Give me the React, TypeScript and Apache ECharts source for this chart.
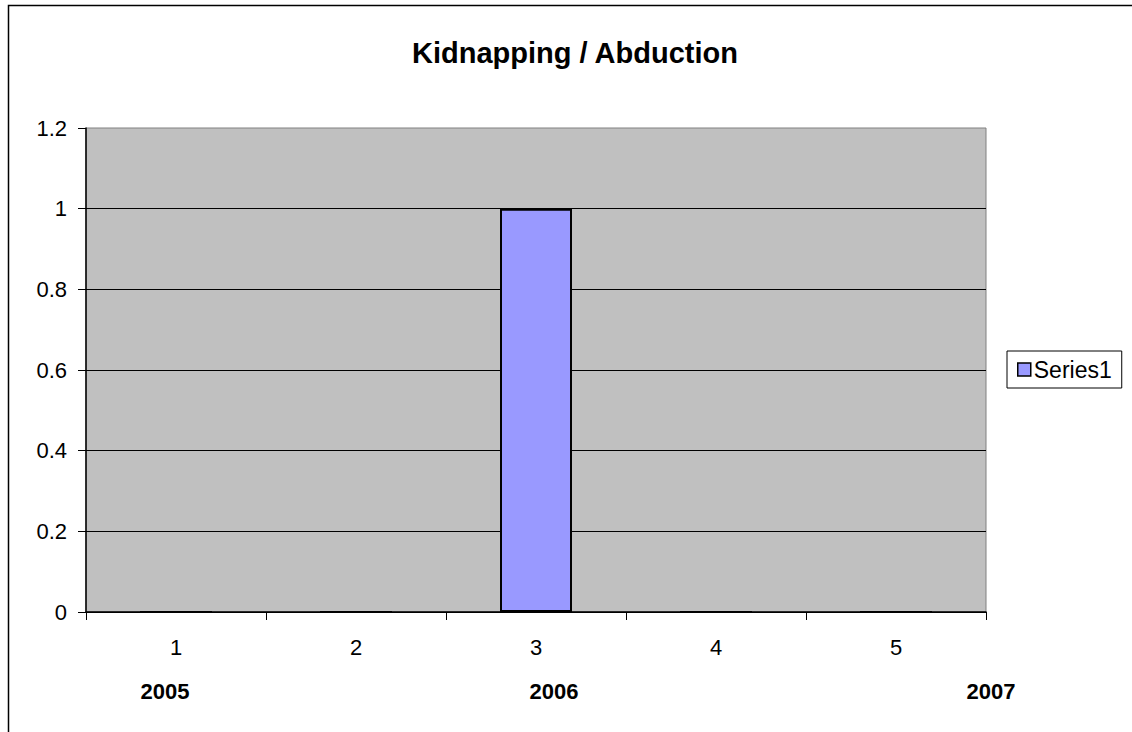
import React, { useEffect, useRef } from "react";
import * as echarts from "echarts";

const categories = ["1", "2", "3", "4", "5"];
const seriesValues = [0, 0, 1, 0, 0];
const yTicks = { min: 0, max: 1.2, interval: 0.2 };
const yearLabels = ["2005", "2006", "2007"];
const titleText = "Kidnapping / Abduction";
const seriesName = "Series1";

const FONT = '"Liberation Sans", Arial, sans-serif';

export default function App() {
  const ref = useRef<HTMLDivElement>(null);
  useEffect(() => {
    if (!ref.current) return;
    const chart = echarts.init(ref.current, null, { renderer: "svg" });
    const yearX = [165, 554, 991];
    chart.setOption({
      animation: false,
      backgroundColor: "#ffffff",
      textStyle: { fontFamily: FONT },
      title: {
        text: titleText,
        left: 407,
        top: 33,
        textStyle: { fontFamily: FONT, fontWeight: "bold", fontSize: 29, color: "#000" },
      },
      legend: {
        left: 1007,
        top: 351,
        orient: "vertical",
        padding: [7, 10, 7, 10],
        borderColor: "#000",
        borderWidth: 1,
        itemWidth: 13,
        itemHeight: 13,
        icon: "rect",
        itemStyle: { color: "#9999FF", borderColor: "#000", borderWidth: 1.5 },
        textStyle: { fontFamily: FONT, fontSize: 23, color: "#000", padding: [0, 0, 0, -2] },
        data: [seriesName],
      },
      grid: {
        left: 86,
        top: 128,
        width: 900,
        height: 484,
        show: true,
        backgroundColor: "#C0C0C0",
        borderColor: "#808080",
        borderWidth: 1,
        containLabel: false,
      },
      xAxis: {
        type: "category",
        data: categories,
        axisLine: { lineStyle: { color: "#000", width: 1.5 } },
        axisTick: { show: true, length: 8, lineStyle: { color: "#000" } },
        axisLabel: { fontFamily: FONT, fontSize: 22, color: "#000", margin: 24 },
        splitLine: { show: false },
      },
      yAxis: {
        type: "value",
        min: yTicks.min,
        max: yTicks.max,
        interval: yTicks.interval,
        axisLine: { show: true, lineStyle: { color: "#000", width: 1.5 } },
        axisTick: { show: true, length: 8, lineStyle: { color: "#000" } },
        axisLabel: {
          fontFamily: FONT,
          fontSize: 22,
          color: "#000",
          margin: 19,
          formatter: (v: number) => String(Math.round(v * 10) / 10),
        },
        splitLine: { show: true, showMaxLine: false, lineStyle: { color: "#000", width: 1 } },
      },
      series: [
        {
          name: seriesName,
          type: "bar",
          data: seriesValues,
          barWidth: 72,
          itemStyle: { color: "#9999FF", borderColor: "#000", borderWidth: 2 },
        },
      ],
      graphic: [
        {
          type: "rect",
          shape: { x: 8.5, y: 5.5, width: 1300, height: 900 },
          style: { fill: "none", stroke: "#000", lineWidth: 1.5 },
          silent: true,
        },
        ...yearLabels.map((t, i) => ({
          type: "text",
          x: yearX[i],
          y: 691,
          style: {
            text: t,
            fontFamily: FONT,
            fontWeight: "bold",
            fontSize: 22,
            fill: "#000",
            align: "center",
            verticalAlign: "middle",
          },
        })),
      ],
    });
    return () => chart.dispose();
  }, []);
  return (
    <div
      ref={ref}
      style={{ position: "absolute", left: 0, top: 0, width: 1132, height: 732, background: "#fff" }}
    />
  );
}
